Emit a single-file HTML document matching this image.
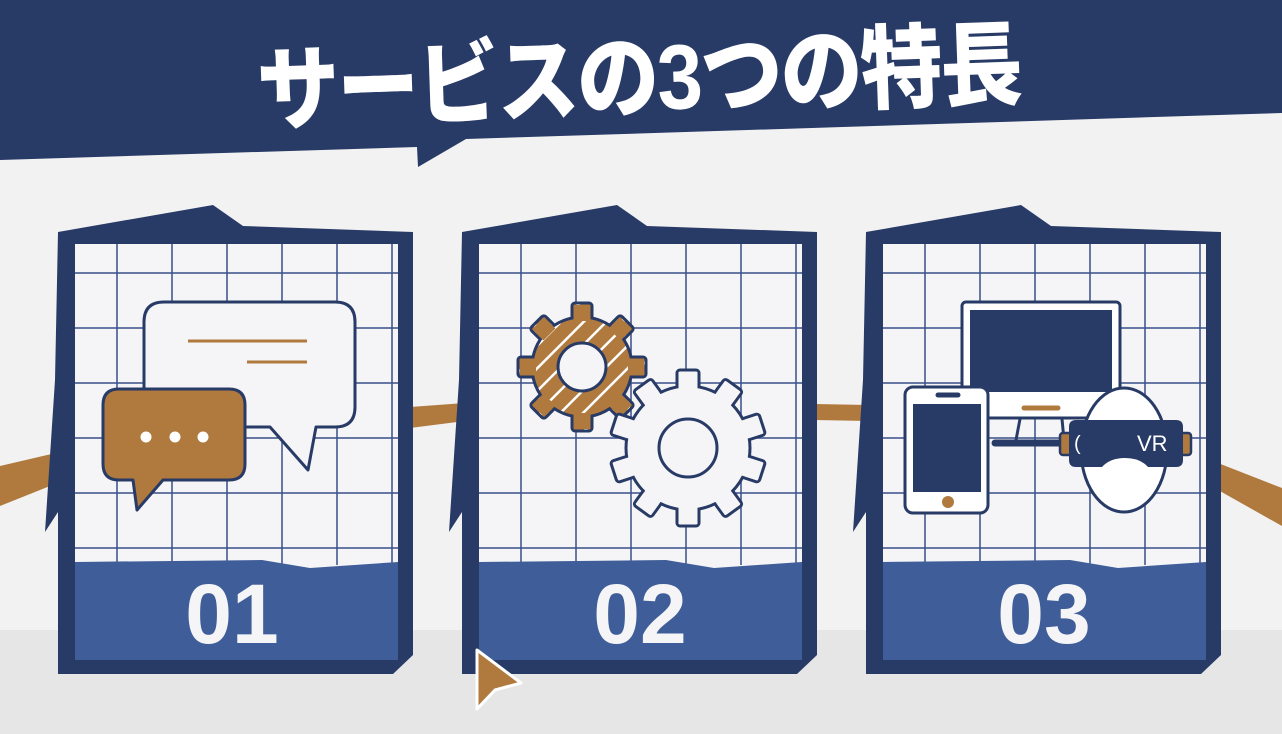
<!DOCTYPE html>
<html><head><meta charset="utf-8"><style>
html,body{margin:0;padding:0;background:#f2f2f2;}
svg{display:block;}
</style></head><body>
<svg width="1282" height="734" viewBox="0 0 1282 734" xmlns="http://www.w3.org/2000/svg">
<defs>
<pattern id="st" patternUnits="userSpaceOnUse" width="16" height="16" patternTransform="rotate(45)">
<rect width="16" height="16" fill="#b07a3f"/><rect x="0" y="0" width="2.5" height="16" fill="#fff"/>
</pattern>
</defs>
<rect width="1282" height="734" fill="#f2f2f2"/>
<rect y="630" width="1282" height="104" fill="#e6e6e6"/>

<!-- brown connectors -->
<polygon points="0,466 60,452 60,482 0,506" fill="#b07a3f"/>
<polygon points="410,407 465,403 465,421 410,428" fill="#b07a3f"/>
<polygon points="814,404 869,405 869,421 814,420" fill="#b07a3f"/>
<polygon points="1218,463 1282,488 1282,526 1218,490" fill="#b07a3f"/>

<!-- title banner -->
<polygon points="0,0 1282,0 1282,113 466,139 418,167 417,147 0,160" fill="#283a66"/>
<text x="0" y="0" text-anchor="middle" transform="translate(640,110) rotate(-2) scale(1,1.12)" font-family="'Liberation Sans','Noto Sans CJK JP',sans-serif" font-weight="900" font-size="82" fill="#fff" letter-spacing="-2">サービスの3つの特長</text>

<!-- cards -->
<g id="c1">
<polygon points="58,232 213,205 243,226 413,232 413,655 393,674 58,674 58,512 45,532 55,380" fill="#283a66"/>
<rect x="75" y="244" width="323" height="416" fill="#f5f5f7"/>
<g stroke="#3a4f8a" stroke-width="1.5">
<line x1="117" y1="244" x2="117" y2="565"/><line x1="172" y1="244" x2="172" y2="565"/><line x1="227" y1="244" x2="227" y2="565"/><line x1="282" y1="244" x2="282" y2="565"/><line x1="337" y1="244" x2="337" y2="565"/><line x1="392" y1="244" x2="392" y2="565"/>
<line x1="75" y1="273" x2="398" y2="273"/><line x1="75" y1="328" x2="398" y2="328"/><line x1="75" y1="383" x2="398" y2="383"/><line x1="75" y1="438" x2="398" y2="438"/><line x1="75" y1="493" x2="398" y2="493"/><line x1="75" y1="548" x2="398" y2="548"/>
</g>
<polygon points="75,562 262,560 310,568 398,562 398,660 75,660" fill="#3f5d99"/>
<text x="232" y="643" text-anchor="middle" font-family="'Liberation Sans',sans-serif" font-weight="bold" font-size="84" fill="#f5f5f7">01</text>
</g>
<g transform="translate(404,0)">
<polygon points="58,232 213,205 243,226 413,232 413,655 393,674 58,674 58,512 45,532 55,380" fill="#283a66"/>
<rect x="75" y="244" width="323" height="416" fill="#f5f5f7"/>
<g stroke="#3a4f8a" stroke-width="1.5">
<line x1="117" y1="244" x2="117" y2="565"/><line x1="172" y1="244" x2="172" y2="565"/><line x1="227" y1="244" x2="227" y2="565"/><line x1="282" y1="244" x2="282" y2="565"/><line x1="337" y1="244" x2="337" y2="565"/><line x1="392" y1="244" x2="392" y2="565"/>
<line x1="75" y1="273" x2="398" y2="273"/><line x1="75" y1="328" x2="398" y2="328"/><line x1="75" y1="383" x2="398" y2="383"/><line x1="75" y1="438" x2="398" y2="438"/><line x1="75" y1="493" x2="398" y2="493"/><line x1="75" y1="548" x2="398" y2="548"/>
</g>
<polygon points="75,562 262,560 310,568 398,562 398,660 75,660" fill="#3f5d99"/>
<text x="236" y="643" text-anchor="middle" font-family="'Liberation Sans',sans-serif" font-weight="bold" font-size="84" fill="#f5f5f7">02</text>
</g>
<g transform="translate(808,0)">
<polygon points="58,232 213,205 243,226 413,232 413,655 393,674 58,674 58,512 45,532 55,380" fill="#283a66"/>
<rect x="75" y="244" width="323" height="416" fill="#f5f5f7"/>
<g stroke="#3a4f8a" stroke-width="1.5">
<line x1="117" y1="244" x2="117" y2="565"/><line x1="172" y1="244" x2="172" y2="565"/><line x1="227" y1="244" x2="227" y2="565"/><line x1="282" y1="244" x2="282" y2="565"/><line x1="337" y1="244" x2="337" y2="565"/><line x1="392" y1="244" x2="392" y2="565"/>
<line x1="75" y1="273" x2="398" y2="273"/><line x1="75" y1="328" x2="398" y2="328"/><line x1="75" y1="383" x2="398" y2="383"/><line x1="75" y1="438" x2="398" y2="438"/><line x1="75" y1="493" x2="398" y2="493"/><line x1="75" y1="548" x2="398" y2="548"/>
</g>
<polygon points="75,562 262,560 310,568 398,562 398,660 75,660" fill="#3f5d99"/>
<text x="236" y="643" text-anchor="middle" font-family="'Liberation Sans',sans-serif" font-weight="bold" font-size="84" fill="#f5f5f7">03</text>
</g>

<!-- icon 1: chat bubbles -->
<g stroke="#283a66" stroke-width="3" stroke-linejoin="round">
<path d="M164,302 H335 Q355,302 355,322 V407 Q355,427 335,427 H316 L308,470 L270,427 H164 Q144,427 144,407 V322 Q144,302 164,302 Z" fill="#f5f5f7"/>
<path d="M119,389 H229 Q245,389 245,405 V464 Q245,480 229,480 H163 L137,510 L133,480 H119 Q103,480 103,464 V405 Q103,389 119,389 Z" fill="#b07a3f"/>
</g>
<g stroke="#b07a3f" stroke-width="3"><line x1="188" y1="341" x2="307" y2="341"/><line x1="247" y1="362" x2="307" y2="362"/></g>
<g fill="#fff"><circle cx="146" cy="437" r="5.5"/><circle cx="175" cy="437" r="5.5"/><circle cx="203" cy="437" r="5.5"/></g>

<!-- icon 2: gears -->
<g transform="translate(582,367)">
<g fill="url(#st)" stroke="#283a66" stroke-width="3">
<rect x="-10" y="-64" width="20" height="20" rx="3"/><rect x="-10" y="-64" width="20" height="20" rx="3" transform="rotate(45)"/><rect x="-10" y="-64" width="20" height="20" rx="3" transform="rotate(90)"/><rect x="-10" y="-64" width="20" height="20" rx="3" transform="rotate(135)"/><rect x="-10" y="-64" width="20" height="20" rx="3" transform="rotate(180)"/><rect x="-10" y="-64" width="20" height="20" rx="3" transform="rotate(225)"/><rect x="-10" y="-64" width="20" height="20" rx="3" transform="rotate(270)"/><rect x="-10" y="-64" width="20" height="20" rx="3" transform="rotate(315)"/>
<circle r="50"/>
</g>
<g fill="#b07a3f">
<rect x="-8.5" y="-62" width="17" height="16" transform="rotate(0)"/><rect x="-8.5" y="-62" width="17" height="16" transform="rotate(45)"/><rect x="-8.5" y="-62" width="17" height="16" transform="rotate(90)"/><rect x="-8.5" y="-62" width="17" height="16" transform="rotate(135)"/><rect x="-8.5" y="-62" width="17" height="16" transform="rotate(180)"/><rect x="-8.5" y="-62" width="17" height="16" transform="rotate(225)"/><rect x="-8.5" y="-62" width="17" height="16" transform="rotate(270)"/><rect x="-8.5" y="-62" width="17" height="16" transform="rotate(315)"/>
</g>
<circle r="24" fill="#f5f5f7" stroke="#283a66" stroke-width="3"/>
</g>
<g transform="translate(688,448)">
<g fill="#f5f5f7" stroke="#283a66" stroke-width="3">
<rect x="-11" y="-78" width="22" height="24" rx="3"/><rect x="-11" y="-78" width="22" height="24" rx="3" transform="rotate(36)"/><rect x="-11" y="-78" width="22" height="24" rx="3" transform="rotate(72)"/><rect x="-11" y="-78" width="22" height="24" rx="3" transform="rotate(108)"/><rect x="-11" y="-78" width="22" height="24" rx="3" transform="rotate(144)"/><rect x="-11" y="-78" width="22" height="24" rx="3" transform="rotate(180)"/><rect x="-11" y="-78" width="22" height="24" rx="3" transform="rotate(216)"/><rect x="-11" y="-78" width="22" height="24" rx="3" transform="rotate(252)"/><rect x="-11" y="-78" width="22" height="24" rx="3" transform="rotate(288)"/><rect x="-11" y="-78" width="22" height="24" rx="3" transform="rotate(324)"/>
<circle r="62"/>
</g>
<g fill="#f5f5f7">
<rect x="-9.5" y="-76" width="19" height="20"/><rect x="-9.5" y="-76" width="19" height="20" transform="rotate(36)"/><rect x="-9.5" y="-76" width="19" height="20" transform="rotate(72)"/><rect x="-9.5" y="-76" width="19" height="20" transform="rotate(108)"/><rect x="-9.5" y="-76" width="19" height="20" transform="rotate(144)"/><rect x="-9.5" y="-76" width="19" height="20" transform="rotate(180)"/><rect x="-9.5" y="-76" width="19" height="20" transform="rotate(216)"/><rect x="-9.5" y="-76" width="19" height="20" transform="rotate(252)"/><rect x="-9.5" y="-76" width="19" height="20" transform="rotate(288)"/><rect x="-9.5" y="-76" width="19" height="20" transform="rotate(324)"/>
</g>
<circle r="29" fill="#f5f5f7" stroke="#283a66" stroke-width="3"/>
</g>

<!-- icon 3: devices -->
<rect x="962" y="302" width="158" height="116" rx="4" fill="#fff" stroke="#283a66" stroke-width="3"/>
<rect x="970" y="310" width="142" height="82" fill="#283a66"/>
<line x1="1024" y1="408" x2="1058" y2="408" stroke="#b07a3f" stroke-width="5" stroke-linecap="round"/>
<g stroke="#283a66" stroke-width="3"><line x1="1020" y1="419" x2="1016" y2="440"/><line x1="1062" y1="419" x2="1064" y2="440"/></g>
<line x1="995" y1="443" x2="1068" y2="443" stroke="#283a66" stroke-width="7" stroke-linecap="round"/>
<rect x="905" y="387" width="83" height="126" rx="8" fill="#fff" stroke="#283a66" stroke-width="3"/>
<rect x="913" y="404" width="68" height="88" fill="#283a66"/>
<line x1="938" y1="395" x2="958" y2="395" stroke="#283a66" stroke-width="5" stroke-linecap="round"/>
<circle cx="948" cy="502" r="6" fill="#b07a3f"/>
<ellipse cx="1124" cy="450" rx="43" ry="62" fill="#fff" stroke="#283a66" stroke-width="3"/>
<rect x="1060" y="433" width="12" height="22" rx="3" fill="#b07a3f" stroke="#283a66" stroke-width="2.5"/>
<rect x="1179" y="433" width="12" height="22" rx="3" fill="#b07a3f" stroke="#283a66" stroke-width="2.5"/>
<path d="M1076,420 H1176 Q1183,420 1183,427 V460 Q1183,467 1176,467 H1148 Q1140,458 1125,458 Q1110,458 1102,467 H1076 Q1069,467 1069,460 V427 Q1069,420 1076,420 Z" fill="#283a66"/>
<text x="1137" y="451" font-family="'Liberation Sans',sans-serif" font-size="22" fill="#fff">VR</text>
<text x="1074" y="450" font-family="'Liberation Sans',sans-serif" font-size="20" fill="#fff">(</text>

<!-- cursor -->
<polygon points="477,650 521,683 495,690 477,709" fill="#b07a3f" stroke="#fff" stroke-width="3" stroke-linejoin="round"/>
</svg>
</body></html>
